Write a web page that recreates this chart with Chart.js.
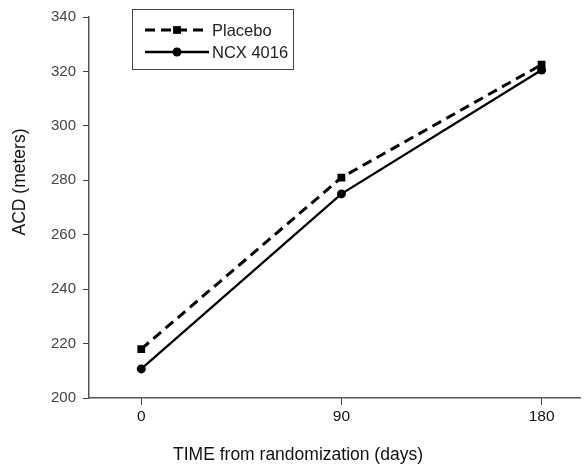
<!DOCTYPE html>
<html>
<head>
<meta charset="utf-8">
<script src="https://cdn.jsdelivr.net/npm/chart.js@4/dist/chart.umd.min.js"></script>
<style>
  html, body { margin: 0; padding: 0; background: #fff; }
  #wrap { width: 586px; height: 467px; }
</style>
</head>
<body>
<div id="wrap"><canvas id="myChart" width="586" height="467"></canvas></div>
<script>
const days = [0, 90, 180];
const placebo = [218, 281, 322.5];
const ncx4016 = [210.7, 275, 320.5];
const xTicks = [0, 90, 180];
const yTicks = [200, 220, 240, 260, 280, 300, 320, 340];

const seriesNames = ["Placebo", "NCX 4016"];

function toPoints(values) {
  return days.map((d, i) => ({ x: d, y: values[i] }));
}

// legend box with line + marker samples, like the original figure
const boxLegend = {
  id: "boxLegend",
  afterDraw(chart) {
    const ctx = chart.ctx;
    ctx.save();
    ctx.strokeStyle = "#444";
    ctx.lineWidth = 1;
    ctx.strokeRect(132.5, 9.5, 161, 60);
    chart.data.datasets.forEach((ds, i) => {
      const y = 30 + i * 22;
      ctx.beginPath();
      ctx.setLineDash(ds.borderDash || []);
      ctx.lineWidth = ds.borderWidth;
      ctx.strokeStyle = "#000";
      ctx.moveTo(145, y);
      ctx.lineTo(209, y);
      ctx.stroke();
      ctx.setLineDash([]);
      ctx.fillStyle = "#000";
      Chart.helpers.drawPoint(ctx, { pointStyle: ds.pointStyle, radius: ds.pointRadius, borderWidth: 0 }, 177, y);
      ctx.fillStyle = "#222";
      ctx.font = "16.5px 'Liberation Sans', Arial, sans-serif";
      ctx.textBaseline = "middle";
      ctx.textAlign = "left";
      ctx.fillText(ds.label, 212, y + 1);
    });
    // axis titles
    ctx.fillStyle = "#111";
    ctx.font = "17.5px 'Liberation Sans', Arial, sans-serif";
    ctx.textAlign = "center";
    ctx.textBaseline = "middle";
    ctx.fillText("TIME from randomization (days)", 298, 455);
    ctx.translate(20, 182);
    ctx.rotate(-Math.PI / 2);
    ctx.fillText("ACD (meters)", 0, 0);
    ctx.restore();
  }
};

const config = {
  type: "line",
  data: {
    datasets: [
      {
        label: seriesNames[0],
        data: toPoints(placebo),
        borderColor: "#000",
        backgroundColor: "#000",
        borderWidth: 3,
        borderDash: [10, 6],
        pointStyle: "rect",
        pointRadius: 5.5,
        pointBorderWidth: 0,
      },
      {
        label: seriesNames[1],
        data: toPoints(ncx4016),
        borderColor: "#000",
        backgroundColor: "#000",
        borderWidth: 2.3,
        pointStyle: "circle",
        pointRadius: 4.5,
        pointBorderWidth: 0,
      },
    ],
  },
  options: {
    responsive: false,
    animation: false,
    layout: { padding: { top: 17, right: 0, left: 0, bottom: 0 } },
    plugins: {
      legend: { display: false },
      tooltip: { enabled: false },
    },
    scales: {
      x: {
        type: "linear",
        min: -23.5,
        max: 197.5,
        afterBuildTicks(scale) {
          scale.ticks = xTicks.map(v => ({ value: v }));
        },
        afterFit(scale) { scale.height = 69; },
        grid: { drawOnChartArea: false, drawTicks: true, tickLength: 7, color: "#444", lineWidth: 1 },
        border: { color: "#555", width: 1.5 },
        ticks: { color: "#111", font: { size: 15.5, family: "'Liberation Sans', Arial, sans-serif" }, padding: 2, maxRotation: 0 },
      },
      y: {
        min: 200,
        max: 340,
        afterBuildTicks(scale) {
          scale.ticks = yTicks.map(v => ({ value: v }));
        },
        afterFit(scale) { scale.width = 89; },
        grid: { drawOnChartArea: false, drawTicks: true, tickLength: 6, color: "#444", lineWidth: 1 },
        border: { color: "#555", width: 1.5 },
        ticks: { color: "#444", font: { size: 15, family: "'Liberation Sans', Arial, sans-serif" }, padding: 7 },
      },
    },
  },
  plugins: [boxLegend],
};

const ctx = document.getElementById("myChart");
const myChart = new Chart(ctx, config);
</script>
</body>
</html>
